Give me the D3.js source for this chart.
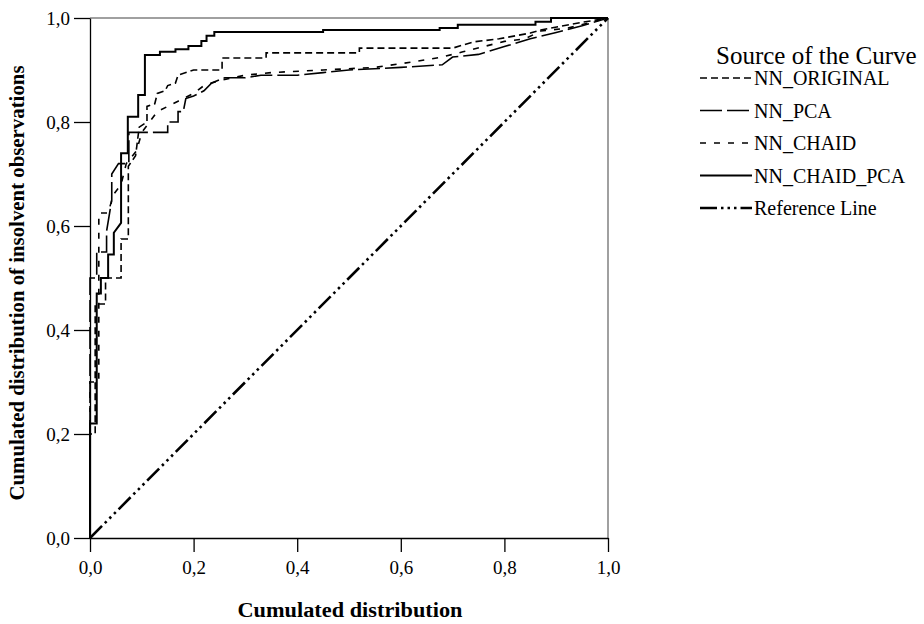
<!DOCTYPE html>
<html>
<head>
<meta charset="utf-8">
<script src="https://cdn.jsdelivr.net/npm/d3@7"></script>
<style>
  body { margin: 0; background: #fff; }
  text { font-family: "Liberation Serif", "Times New Roman", serif; fill: #000; }
</style>
</head>
<body>
<script>
var width = 924;
var height = 624;

// ROC curves (false positive rate / true positive rate)
var origX = [0, 0, 0.01, 0.01, 0.03, 0.03, 0.06, 0.06, 0.074, 0.074, 0.088, 0.095, 0.11, 0.11, 0.125, 0.13, 0.145, 0.15, 0.165, 0.17, 0.2, 0.255, 0.255, 0.34, 0.34, 0.52, 0.52, 0.7, 0.74, 0.79, 0.85, 0.87, 0.94, 1];
var origY = [0, 0.2, 0.2, 0.45, 0.45, 0.5, 0.5, 0.575, 0.575, 0.715, 0.735, 0.79, 0.8, 0.83, 0.835, 0.855, 0.86, 0.87, 0.875, 0.89, 0.9, 0.9, 0.923, 0.923, 0.933, 0.933, 0.942, 0.942, 0.954, 0.96, 0.971, 0.977, 0.99, 1];

var pcaX = [0, 0, 0.013, 0.013, 0.032, 0.032, 0.042, 0.042, 0.055, 0.075, 0.075, 0.15, 0.15, 0.17, 0.17, 0.18, 0.185, 0.2, 0.22, 0.235, 0.26, 0.3, 0.33, 0.4, 0.45, 0.5, 0.6, 0.68, 0.7, 0.75, 0.8, 0.85, 0.9, 0.95, 1];
var pcaY = [0, 0.5, 0.5, 0.55, 0.55, 0.59, 0.65, 0.7, 0.72, 0.72, 0.78, 0.78, 0.8, 0.8, 0.82, 0.82, 0.845, 0.85, 0.86, 0.875, 0.885, 0.885, 0.89, 0.89, 0.895, 0.9, 0.905, 0.91, 0.925, 0.93, 0.945, 0.96, 0.972, 0.985, 1];

var chaidX = [0, 0, 0.017, 0.017, 0.035, 0.045, 0.06, 0.07, 0.09, 0.1, 0.115, 0.13, 0.15, 0.17, 0.2, 0.22, 0.25, 0.3, 0.35, 0.45, 0.55, 0.62, 0.68, 0.72, 0.76, 0.8, 0.84, 0.87, 0.92, 0.96, 1];
var chaidY = [0, 0.3, 0.3, 0.625, 0.625, 0.66, 0.68, 0.72, 0.745, 0.78, 0.8, 0.82, 0.83, 0.84, 0.855, 0.87, 0.88, 0.89, 0.895, 0.9, 0.905, 0.915, 0.925, 0.935, 0.945, 0.955, 0.96, 0.975, 0.98, 0.99, 1];

var chaidPcaX = [0, 0, 0.013, 0.013, 0.021, 0.021, 0.035, 0.035, 0.046, 0.046, 0.06, 0.06, 0.073, 0.073, 0.093, 0.093, 0.106, 0.106, 0.135, 0.135, 0.165, 0.165, 0.19, 0.19, 0.215, 0.215, 0.225, 0.225, 0.24, 0.24, 0.45, 0.45, 0.675, 0.675, 0.71, 0.71, 0.86, 0.86, 0.89, 0.89, 1];
var chaidPcaY = [0, 0.22, 0.22, 0.47, 0.47, 0.5, 0.5, 0.545, 0.545, 0.587, 0.606, 0.74, 0.74, 0.81, 0.81, 0.852, 0.852, 0.929, 0.929, 0.935, 0.935, 0.94, 0.94, 0.946, 0.946, 0.956, 0.956, 0.966, 0.966, 0.973, 0.973, 0.977, 0.977, 0.981, 0.981, 0.987, 0.987, 0.993, 0.993, 1, 1];

var refX = [0, 1];
var refY = [0, 1];

var tickValues = [0, 0.2, 0.4, 0.6, 0.8, 1.0];
var tickLabels = ["0,0", "0,2", "0,4", "0,6", "0,8", "1,0"];

var seriesNames = ["NN_ORIGINAL", "NN_PCA", "NN_CHAID", "NN_CHAID_PCA", "Reference Line"];
var seriesDash = ["7,4", "22,5", "6,8", null, "17,4,2.5,4,2.5,4,2.5,4"];
var seriesWidth = [1.6, 1.6, 1.6, 2, 2.6];

var series = [
  d3.zip(origX, origY),
  d3.zip(pcaX, pcaY),
  d3.zip(chaidX, chaidY),
  d3.zip(chaidPcaX, chaidPcaY),
  d3.zip(refX, refY)
];

var plotLeft = 90, plotRight = 608, plotTop = 18, plotBottom = 538;

var x = d3.scaleLinear().domain([0, 1]).range([plotLeft, plotRight]);
var y = d3.scaleLinear().domain([0, 1]).range([plotBottom, plotTop]);

var svg = d3.select("body")
  .append("svg")
  .attr("width", width)
  .attr("height", height);

// frame (top and right)
svg.append("line")
  .attr("x1", plotLeft).attr("x2", plotRight)
  .attr("y1", plotTop).attr("y2", plotTop)
  .attr("stroke", "#808080").attr("stroke-width", 1.5);
svg.append("line")
  .attr("x1", plotRight).attr("x2", plotRight)
  .attr("y1", plotTop).attr("y2", plotBottom)
  .attr("stroke", "#a0a0a0").attr("stroke-width", 2);

var xAxis = d3.axisBottom(x)
  .tickValues(tickValues)
  .tickSize(14)
  .tickSizeOuter(0)
  .tickPadding(8)
  .tickFormat(function (d, i) { return tickLabels[i]; });

var yAxis = d3.axisLeft(y)
  .tickValues(tickValues)
  .tickSize(16)
  .tickSizeOuter(0)
  .tickPadding(4)
  .tickFormat(function (d, i) { return tickLabels[i]; });

var gx = svg.append("g")
  .attr("transform", "translate(0," + plotBottom + ")")
  .call(xAxis);

var gy = svg.append("g")
  .attr("transform", "translate(" + plotLeft + ",0)")
  .call(yAxis);

[gx, gy].forEach(function (g) {
  g.select(".domain").attr("stroke", "#000").attr("stroke-width", 1.3);
  g.selectAll(".tick line").attr("stroke", "#000").attr("stroke-width", 1.3);
  g.selectAll(".tick text")
    .attr("font-family", "Liberation Serif")
    .attr("font-size", 19)
    .attr("fill", "#000");
});
gx.selectAll(".tick text").attr("dy", "0.75em");
gy.selectAll(".tick text").attr("dy", "0.35em");

// axis titles
svg.append("text")
  .attr("x", 350)
  .attr("y", 617)
  .attr("text-anchor", "middle")
  .attr("font-size", 20)
  .attr("font-weight", "bold")
  .attr("textLength", 225)
  .attr("lengthAdjust", "spacingAndGlyphs")
  .text("Cumulated distribution");

svg.append("text")
  .attr("transform", "translate(24,283) rotate(-90)")
  .attr("text-anchor", "middle")
  .attr("font-size", 20)
  .attr("font-weight", "bold")
  .attr("textLength", 435)
  .attr("lengthAdjust", "spacingAndGlyphs")
  .text("Cumulated distribution of insolvent observations");

// curves
var line = d3.line()
  .x(function (d) { return x(d[0]); })
  .y(function (d) { return y(d[1]); });

svg.append("g")
  .selectAll("path")
  .data(series)
  .enter()
  .append("path")
  .attr("d", line)
  .attr("fill", "none")
  .attr("stroke", "#000")
  .attr("stroke-width", function (d, i) { return seriesWidth[i]; })
  .attr("stroke-dasharray", function (d, i) { return seriesDash[i]; });

// legend
var legend = svg.append("g");

legend.append("text")
  .attr("x", 716)
  .attr("y", 64)
  .attr("font-size", 25)
  .text("Source of the Curve");

var rows = legend.selectAll(".row")
  .data(seriesNames)
  .enter()
  .append("g")
  .attr("class", "row")
  .attr("transform", function (d, i) { return "translate(0," + (78 + i * 32.5) + ")"; });

rows.append("line")
  .attr("x1", 700)
  .attr("x2", 752)
  .attr("y1", 0)
  .attr("y2", 0)
  .attr("stroke", "#000")
  .attr("stroke-width", function (d, i) { return seriesWidth[i]; })
  .attr("stroke-dasharray", function (d, i) { return seriesDash[i]; });

rows.append("text")
  .attr("x", 754)
  .attr("y", 7)
  .attr("font-size", 20)
  .text(function (d) { return d; });
</script>
</body>
</html>
